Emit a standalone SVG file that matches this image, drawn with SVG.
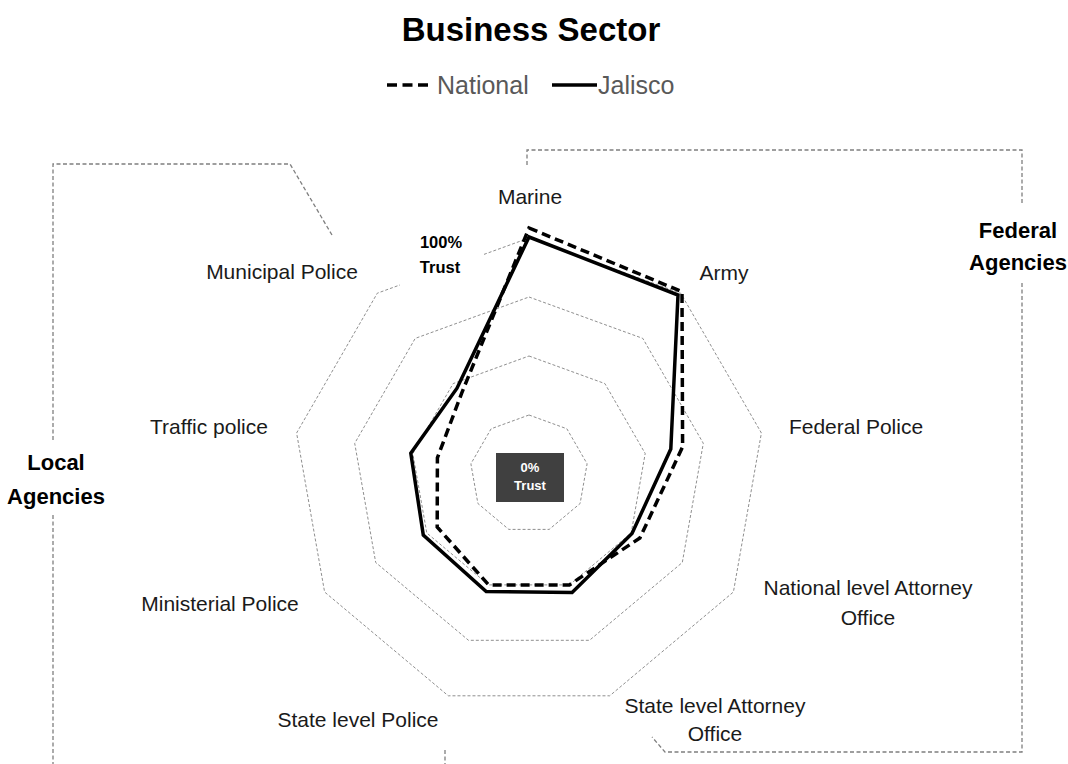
<svg xmlns="http://www.w3.org/2000/svg" width="1068" height="764" viewBox="0 0 1068 764">
<style>
.lbl{font-family:"Liberation Sans",Arial,sans-serif;font-size:21px;fill:#1a1a1a;text-anchor:middle}
.grp{font-family:"Liberation Sans",Arial,sans-serif;font-size:22px;font-weight:bold;fill:#000;text-anchor:middle}
.ring{fill:none;stroke:#8f8f8f;stroke-width:1;stroke-dasharray:3,2}
.brk{fill:none;stroke:#7f7f7f;stroke-width:1.3;stroke-dasharray:4,2.5}
.nat{fill:none;stroke:#000;stroke-width:3.5;stroke-dasharray:9,5;stroke-linejoin:miter}
.jal{fill:none;stroke:#000;stroke-width:3.5;stroke-linejoin:miter}
.leg{font-family:"Liberation Sans",Arial,sans-serif;font-size:25px;fill:#595959}
</style>
<rect width="1068" height="764" fill="#fff"/>
<g id="title"><text x="531" y="41" font-family="Liberation Sans, Arial, sans-serif" font-size="33" font-weight="bold" text-anchor="middle" fill="#000">Business Sector</text></g>
<g id="legend">
<line x1="387" y1="85" x2="428" y2="85" stroke="#000" stroke-width="3.5" stroke-dasharray="10,5.5"/>
<text class="leg" x="437" y="94">National</text>
<line x1="552" y1="85" x2="597" y2="85" stroke="#000" stroke-width="3.5"/>
<text class="leg" x="598" y="94">Jalisco</text>
</g>
<g id="grid">
<polygon class="ring" points="529,415 566.9,428.8 587.1,463.8 580.1,503.5 549.2,529.4 508.8,529.4 477.9,503.5 470.9,463.8 491.1,428.8"/>
<polygon class="ring" points="529,356 604.9,383.6 645.2,453.5 631.2,533 569.4,584.9 488.6,584.9 426.8,533 412.8,453.5 453.1,383.6"/>
<polygon class="ring" points="529,297 642.8,338.4 703.3,443.3 682.3,562.5 589.5,640.3 468.5,640.3 375.7,562.5 354.7,443.3 415.2,338.4"/>
<polygon class="ring" points="529,238 680.7,293.2 761.4,433 733.4,592 609.7,695.8 448.3,695.8 324.6,592 296.6,433 377.3,293.2"/>
</g>
<g id="connectors">
<path class="brk" d="M332,235 L290,164 L53,164 L53,440"/>
<path class="brk" d="M53,515 L53,764"/>
<path class="brk" d="M445,750 L445,764"/>
<path class="brk" d="M527,165 L527,150 L1022,150 L1022,203"/>
<path class="brk" d="M1022,283 L1022,752 L665,752 L652,737"/>
</g>
<g id="label-100">
<rect x="400" y="226" width="84" height="60" fill="#fff"/>
<text x="441" y="248" font-family="Liberation Sans, Arial, sans-serif" font-size="16.5" font-weight="bold" text-anchor="middle" fill="#000">100%</text>
<text x="440" y="273" font-family="Liberation Sans, Arial, sans-serif" font-size="16.5" font-weight="bold" text-anchor="middle" fill="#000">Trust</text>
</g>
<g id="series-national">
<polygon class="nat" points="529,228 682,291.7 682.6,446.9 639.9,538 569.4,584.9 488.6,584.9 437.2,527 437.4,457.9 461.5,393.6"/>
</g>
<g id="series-jalisco">
<polygon class="jal" points="529,237 678,295 670.8,449 632,533.5 572.1,592.4 486.2,591.5 423.3,535 410.8,453.2 457,388.2"/>
</g>
<g id="label-0">
<rect x="496" y="453" width="68" height="49" fill="#404040"/>
<text x="530" y="472" font-family="Liberation Sans, Arial, sans-serif" font-size="13" font-weight="bold" text-anchor="middle" fill="#fff">0%</text>
<text x="530" y="490" font-family="Liberation Sans, Arial, sans-serif" font-size="13" font-weight="bold" text-anchor="middle" fill="#fff">Trust</text>
</g>
<g id="axis-labels">
<g id="marine"><text class="lbl" x="530" y="204">Marine</text></g>
<g id="army"><text class="lbl" x="724" y="280">Army</text></g>
<g id="federal-police"><text class="lbl" x="856" y="434">Federal Police</text></g>
<g id="national-attorney"><text class="lbl" x="868" y="595">National level Attorney</text><text class="lbl" x="868" y="625">Office</text></g>
<g id="state-attorney"><text class="lbl" x="715" y="713">State level Attorney</text><text class="lbl" x="715" y="741">Office</text></g>
<g id="state-police"><text class="lbl" x="358" y="727">State level Police</text></g>
<g id="ministerial-police"><text class="lbl" x="220" y="611">Ministerial Police</text></g>
<g id="traffic-police"><text class="lbl" x="209" y="434">Traffic police</text></g>
<g id="municipal-police"><text class="lbl" x="282" y="279">Municipal Police</text></g>
</g>
<g id="federal-agencies"><text class="grp" x="1018" y="238">Federal</text><text class="grp" x="1018" y="270">Agencies</text></g>
<g id="local-agencies"><text class="grp" x="56" y="470">Local</text><text class="grp" x="56" y="504">Agencies</text></g>
</svg>
